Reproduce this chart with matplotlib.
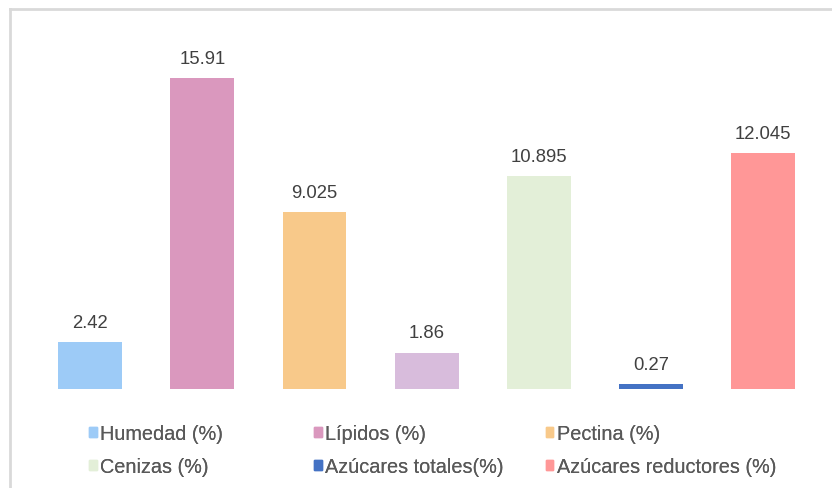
import matplotlib
matplotlib.use('Agg')
import matplotlib.pyplot as plt
from matplotlib.lines import Line2D
from matplotlib.patches import Patch

plt.rcParams['font.family'] = ['Liberation Sans', 'DejaVu Sans']

# composition values (%)
labels = ['Humedad (%)', 'Lípidos (%)', 'Pectina (%)', '_nolegend_',
          'Cenizas (%)', 'Azúcares totales(%)', 'Azúcares reductores (%)']
values = [2.42, 15.91, 9.025, 1.86, 10.895, 0.27, 12.045]
value_text = ['2.42', '15.91', '9.025', '1.86', '10.895', '0.27', '12.045']
colors = ['#9DCBF7', '#DA98BE', '#F8C98A', '#D8BCDC',
          '#E3EFD8', '#4472C4', '#FF9797']

fig = plt.figure(figsize=(8.32, 4.89), dpi=100)
ax = fig.add_axes([0.041, 0.2025, 0.9435, 0.72])

x = range(len(values))
bars = ax.bar(x, values, width=0.57, color=colors)
for b, t in zip(bars, value_text):
    ax.annotate(t, (b.get_x() + b.get_width() / 2, b.get_height()),
                xytext=(0, 8), textcoords='offset points',
                ha='center', va='bottom', fontsize=13.3, color='#404040')

ax.set_xlim(-0.5, len(values) - 0.5)
ax.set_ylim(0, 18)
ax.axis('off')

# legend, three columns of two entries
cols = [(0, 4), (1, 5), (2, 6)]
xpos = [0.107, 0.378, 0.656]
for (i, j), xp in zip(cols, xpos):
    handles = [Patch(color=colors[k], label=labels[k]) for k in (i, j)]
    leg = fig.legend(handles=handles, loc='upper left',
                     bbox_to_anchor=(xp, 0.13), frameon=False,
                     fontsize=14.3, handlelength=0.38, handleheight=0.38,
                     handletextpad=0.17, labelspacing=0.7,
                     borderpad=0, borderaxespad=0)
    for txt in leg.get_texts():
        txt.set_color('#595959')
    fig.add_artist(leg)

# outer frame (top and left edges)
fig.add_artist(Line2D([0.012, 1.0], [0.9796, 0.9796], color='#D9D9D9',
                      lw=2, transform=fig.transFigure))
fig.add_artist(Line2D([0.012, 0.012], [0.0, 0.9796], color='#D9D9D9',
                      lw=2, transform=fig.transFigure))

fig.savefig('out.png', dpi=100)
